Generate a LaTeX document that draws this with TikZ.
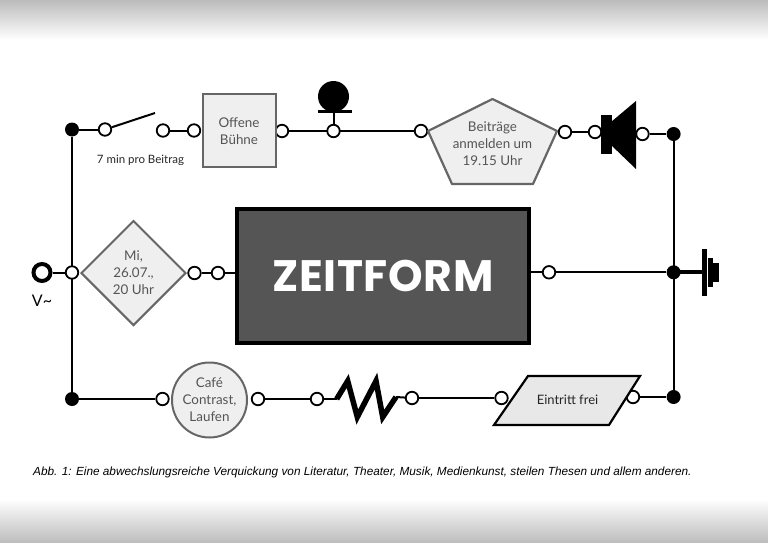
\documentclass[tikz,border=0pt]{standalone}
\usepackage{fontspec}
\setmainfont{Lato}
\newfontfamily\captionfont{Liberation Sans}
\newfontfamily\titlefont[LetterSpace=1.5]{Poppins}
\usetikzlibrary{positioning,backgrounds,shapes.geometric}
\definecolor{framegray}{RGB}{102,102,102}
\definecolor{textgray}{RGB}{85,85,85}
\definecolor{panelgray}{RGB}{239,239,239}
\definecolor{bandgray}{RGB}{188,188,188}
\tikzset{
  terminal/.style={
    circle,
    draw=black, line width=1.8pt,
    fill=white,
    minimum size=12.5pt,
    inner sep=0pt},
  junction/.style={
    circle,
    fill=black,
    minimum size=14pt,
    inner sep=0pt},
  wire/.style={draw, line width=2pt},
  label/.style={
    text=textgray,
    align=center,
    inner sep=0pt,
    font=\fontsize{13.4}{17}\selectfont},
  panel/.style={
    draw=framegray, line width=2pt,
    fill=panelgray,
    label},
  groundbar/.style={
    rectangle,
    fill=black,
    inner sep=0pt},
}

\begin{document}
\begin{tikzpicture}[x=1pt,y=-1pt]
  \useasboundingbox (0,0) rectangle (768,543);
     \node[terminal] (switchin) at (105,129.5) {};
     \node[terminal] (switchout) at (163,130.5) {};
     \node[terminal] (offeneout) at (282,131) {};
     \node[terminal] (micro) at (333.5,131) {};
     \node[terminal] (offenein) at (194,130.5) {};
     \node[terminal] (beitragein) at (421,131) {};
     \node[terminal] (beitrageout) at (565,132) {};
     \node[terminal] (speakerin) at (595,132) {};
     \node[terminal] (speakerout) at (642.5,134) {};
     \node[terminal] (datumleft) at (72,272.5) {};
     \node[terminal] (datumright) at (194.5,273) {};
     \node[terminal] (zeitin) at (218,273) {};
     \node[terminal] (zeitout) at (549,272.3) {};
     \node[terminal] (cafein) at (162.5,399) {};
     \node[terminal] (cafeout) at (258,399) {};
     \node[terminal] (resistin) at (317,399) {};
     \node[terminal] (resistout) at (412,398) {};
     \node[terminal] (freiin) at (501.5,398) {};
     \node[terminal] (freiout) at (633,397) {};
     \node[junction] (topleft) at (72,129.5) {};
     \node[junction] (topright) at (673.6,134) {};
     \node[junction] (midright) at (673.6,272.3) {};
     \node[junction] (botleft) at (72,399) {};
     \node[junction] (botright) at (673.6,397) {};
     \node[circle, draw=black, line width=4pt, fill=white, minimum size=17pt, inner sep=0pt]
        (source) at (42,272.5) {};
     \node[below=12pt of source, inner sep=0pt, font=\fontsize{16}{16}\selectfont] (sourcetext) {V\char`~};

     \node[panel, minimum size=73pt, inner sep=0pt] (offene) at (239,130.7) {Offene\\Bühne};
     \node[panel, diamond, aspect=1, minimum size=105pt, inner sep=0pt] (datum) at (133.5,273) {Mi,\\26.07.,\\20 Uhr};
     \node[panel, circle, minimum size=75pt, inner sep=0pt] (cafe) at (209.5,400) {Café\\Contrast,\\Laufen};
     \node[rectangle, draw=black, line width=4pt, fill=textgray, minimum width=292pt, minimum height=134pt,
        text=white, font=\titlefont\fontsize{44}{44}\selectfont\bfseries] (zeitform) at (383,275.8) {ZEITFORM};

     \fill[black!9, draw=black, line width=2.2pt, line join=miter]
        (528,376) -- (640,376) -- (609,425) -- (494,425) -- cycle;
     \node[inner sep=0pt, font=\fontsize{13}{14}\selectfont, text=black!85] (frei) at (567.5,400) {Eintritt frei};

     \fill[panelgray, draw=framegray, line width=2.2pt, line join=round]
        (492.5,99) -- (557,131) -- (533,184) -- (452,184) -- (428,131) -- cycle;
     \node[label] (beitraege) at (492.5,143.7) {Beiträge\\anmelden um\\19.15 Uhr};
     \node[inner sep=0pt, font=\fontsize{11.5}{12}\selectfont, text=black!85] (dauer) at (140.5,160) {7 min pro Beitrag};

     \coordinate (switchtip) at (155,113);
     \node[circle, fill=black, minimum size=31pt, inner sep=0pt] (microhead) at (333.5,96.5) {};
     \node[rectangle, fill=black, minimum width=34pt, minimum height=3.5pt, inner sep=0pt] (microbar) at (334.5,111.5) {};
     \node[rectangle, fill=black, minimum width=11pt, minimum height=39pt, inner sep=0pt] (speakerbody) at (606.5,134.5) {};
     \fill[black] (611,122) -- (636,101) -- (636,169) -- (611,145) -- cycle;
     \coordinate (resista) at (336.7,399);
     \coordinate (resistb) at (396,397);
     \draw[line width=5.5pt, line join=miter, miter limit=20]
        (resista) -- (347.7,381) -- (357.3,417) -- (376,381) -- (382.7,417) -- (resistb);

     \node[groundbar, minimum width=5pt, minimum height=46.5pt] (groundc) at (704.2,272.3) {};
     \node[groundbar, minimum width=5.3pt, minimum height=29.3pt] (groundb) at (710.7,272.7) {};
     \node[groundbar, minimum width=5.4pt, minimum height=18.5pt] (grounda) at (716,272.5) {};

     \node[inner sep=0pt, anchor=base west, font=\captionfont\itshape\fontsize{11.8}{13}\selectfont]
        (caption) at (33,475) {Abb. 1: Eine abwechslungsreiche Verquickung von Literatur, Theater, Musik, Medienkunst, steilen Thesen und allem anderen.};

     \begin{scope}[on background layer]
       \fill[top color=bandgray, bottom color=white] (0,0) rectangle (768,40);
       \fill[top color=white, bottom color=bandgray] (768,499) rectangle (0,543);
       \path[wire] (topleft) -- (botleft);
       \path[wire] (topright) -- (botright);
       \path[wire] (topleft) -- (switchin);
       \path[wire] (switchin) -- (switchtip);
       \path[wire] (switchout) -- (offenein);
       \path[wire] (offeneout) -- (beitragein);
       \path[wire] (micro) -- (micro |- microbar);
       \path[wire] (beitrageout) -- (speakerin);
       \path[wire] (speakerout) -- (topright);
       \path[wire] (source) -- (datumleft);
       \path[wire] (datumright) -- (zeitin);
       \path[wire] (zeitin) -- (zeitin -| zeitform.west);
       \path[wire] (zeitout -| zeitform.east) -- (zeitout);
       \path[wire] (zeitout) -- (midright);
       \path[draw, line width=4pt] (midright.center) -- (groundc.center);
       \path[wire] (botleft) -- (cafein);
       \path[wire] (cafeout) -- (resistin);
       \path[wire] (resistin) -- (resista);
       \path[wire] (resistb) -- (resistout);
       \path[wire] (resistout) -- (freiin);
       \path[wire] (freiout) -- (botright);
     \end{scope}
\end{tikzpicture}
\end{document}
